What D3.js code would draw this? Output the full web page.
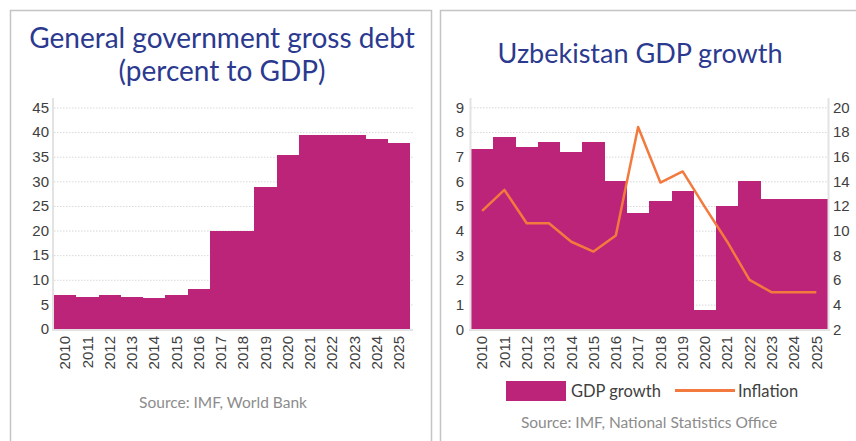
<!DOCTYPE html>
<html>
<head>
<meta charset="utf-8">
<script src="https://cdn.jsdelivr.net/npm/d3@7"></script>
<style>
  html, body { margin: 0; padding: 0; background: #fff; }
  svg { display: block; font-family: Lato, "Open Sans", sans-serif; }
</style>
</head>
<body>
<svg id="chart" width="856" height="441"></svg>
<script>
// Years shared by both panels
const years = ["2010","2011","2012","2013","2014","2015","2016","2017","2018","2019","2020","2021","2022","2023","2024","2025"];

// General government gross debt, % of GDP
const debtValues = [7.0, 6.5, 7.0, 6.6, 6.2, 7.0, 8.2, 20.0, 20.0, 28.9, 35.4, 39.4, 39.4, 39.4, 38.6, 37.8];
const debtTicks = [0, 5, 10, 15, 20, 25, 30, 35, 40, 45];

// Uzbekistan real GDP growth and inflation, %
const gdpGrowth = [7.3, 7.8, 7.4, 7.6, 7.2, 7.6, 6.0, 4.7, 5.2, 5.6, 0.8, 5.0, 6.0, 5.3, 5.3, 5.3];
const inflation = [11.6, 13.3, 10.6, 10.6, 9.1, 8.3, 9.6, 18.4, 13.9, 14.8, 11.9, 9.1, 6.0, 5.0, 5.0, 5.0];
const growthTicks = [0, 1, 2, 3, 4, 5, 6, 7, 8, 9];
const inflationTicks = [2, 4, 6, 8, 10, 12, 14, 16, 18, 20];

const BAR = "#bc2479";
const LINE = "#f37a3e";
const TITLE = "#2b3a8f";
const TICK = "#404040";
const GRID = "#d8d8d8";
const AXIS = "#e3e3e3";
const SOURCE = "#8c8c8c";

const svg = d3.select("#chart");

// Panel frames
svg.append("rect").attr("x", 10.5).attr("y", 10.5).attr("width", 421).attr("height", 450)
  .attr("fill", "none").attr("stroke", "#c4c4c4").attr("stroke-width", 1.5);
svg.append("rect").attr("x", 440.5).attr("y", 10.5).attr("width", 440).attr("height", 450)
  .attr("fill", "none").attr("stroke", "#c4c4c4").attr("stroke-width", 1.5);

function styleAxis(g) {
  g.select(".domain").remove();
  g.selectAll(".tick line").remove();
  g.selectAll(".tick text").attr("fill", TICK).style("font-size", "15px");
}

function gridLines(g, scale, ticks, x0, x1) {
  g.selectAll("line.grid").data(ticks.filter(t => t !== scale.domain()[0])).join("line")
    .attr("class", "grid")
    .attr("x1", x0).attr("x2", x1)
    .attr("y1", d => scale(d) + 0.5).attr("y2", d => scale(d) + 0.5)
    .attr("stroke", GRID).attr("stroke-width", 1).attr("stroke-dasharray", "1.5,1.5");
}

function yearAxis(g, x, y0) {
  g.attr("transform", `translate(0,${y0})`)
    .call(d3.axisBottom(x).tickSizeOuter(0).tickSize(0))
    .call(styleAxis);
  g.selectAll(".tick text")
    .attr("transform", "rotate(-90)")
    .attr("x", -5).attr("y", 0).attr("dy", "0.35em")
    .style("text-anchor", "end");
}

// ---------- Left panel: government debt ----------
{
  const x = d3.scaleBand().domain(years).range([54, 410]).padding(0);
  const y = d3.scaleLinear().domain([0, 45]).range([329, 107.5]);
  const g = svg.append("g");

  g.append("text").attr("x", 222).attr("y", 48).attr("text-anchor", "middle")
    .attr("fill", TITLE).style("font-size", "28px").text("General government gross debt");
  g.append("text").attr("x", 222).attr("y", 81).attr("text-anchor", "middle")
    .attr("fill", TITLE).style("font-size", "28px").text("(percent to GDP)");

  gridLines(g.append("g"), y, debtTicks, 54, 413);

  g.selectAll("rect.bar").data(debtValues).join("rect")
    .attr("class", "bar")
    .attr("x", (d, i) => x(years[i]))
    .attr("width", x.bandwidth())
    .attr("y", d => y(d))
    .attr("height", d => y(0) - y(d))
    .attr("fill", BAR)
    .attr("shape-rendering", "crispEdges");

  // axis lines
  g.append("line").attr("x1", 53).attr("x2", 53).attr("y1", 98).attr("y2", 331)
    .attr("stroke", AXIS).attr("stroke-width", 2);
  g.append("line").attr("x1", 52).attr("x2", 413).attr("y1", 330).attr("y2", 330)
    .attr("stroke", AXIS).attr("stroke-width", 2);

  g.append("g").attr("transform", "translate(53,0)")
    .call(d3.axisLeft(y).tickValues(debtTicks).tickSize(0).tickPadding(4))
    .call(styleAxis);

  yearAxis(g.append("g"), x, 331);

  g.append("text").attr("x", 223).attr("y", 408).attr("text-anchor", "middle")
    .attr("fill", SOURCE).style("font-size", "15.5px").text("Source: IMF, World Bank");
}

// ---------- Right panel: GDP growth and inflation ----------
{
  const x = d3.scaleBand().domain(years).range([471, 827.5]).padding(0);
  const yL = d3.scaleLinear().domain([0, 9]).range([329.3, 107.3]);
  const yR = d3.scaleLinear().domain([2, 20]).range([329.3, 107.3]);
  const g = svg.append("g");

  g.append("text").attr("x", 640).attr("y", 63).attr("text-anchor", "middle")
    .attr("fill", TITLE).style("font-size", "27px").text("Uzbekistan GDP growth");

  gridLines(g.append("g"), yL, growthTicks, 471, 828);

  g.selectAll("rect.bar").data(gdpGrowth).join("rect")
    .attr("class", "bar")
    .attr("x", (d, i) => x(years[i]))
    .attr("width", x.bandwidth())
    .attr("y", d => yL(d))
    .attr("height", d => yL(0) - yL(d))
    .attr("fill", BAR)
    .attr("shape-rendering", "crispEdges");

  const line = d3.line()
    .x((d, i) => x(years[i]) + x.bandwidth() / 2)
    .y(d => yR(d));
  g.append("path").datum(inflation)
    .attr("d", line).attr("fill", "none")
    .attr("stroke", LINE).attr("stroke-width", 2.5).attr("stroke-linejoin", "round");

  g.append("line").attr("x1", 470.5).attr("x2", 470.5).attr("y1", 98).attr("y2", 331)
    .attr("stroke", AXIS).attr("stroke-width", 2);
  g.append("line").attr("x1", 828.5).attr("x2", 828.5).attr("y1", 98).attr("y2", 331)
    .attr("stroke", AXIS).attr("stroke-width", 2);
  g.append("line").attr("x1", 469).attr("x2", 830).attr("y1", 330).attr("y2", 330)
    .attr("stroke", AXIS).attr("stroke-width", 2);

  g.append("g").attr("transform", "translate(470,0)")
    .call(d3.axisLeft(yL).tickValues(growthTicks).tickSize(0).tickPadding(6))
    .call(styleAxis);
  g.append("g").attr("transform", "translate(829,0)")
    .call(d3.axisRight(yR).tickValues(inflationTicks).tickSize(0).tickPadding(4))
    .call(styleAxis);

  yearAxis(g.append("g"), x, 331);

  // legend
  const lg = g.append("g");
  lg.append("rect").attr("x", 506).attr("y", 381).attr("width", 60).attr("height", 20).attr("fill", BAR);
  lg.append("text").attr("x", 571).attr("y", 397).attr("fill", TICK).style("font-size", "16.5px").text("GDP growth");
  lg.append("line").attr("x1", 675).attr("x2", 735).attr("y1", 390.5).attr("y2", 390.5)
    .attr("stroke", LINE).attr("stroke-width", 3);
  lg.append("text").attr("x", 738).attr("y", 397).attr("fill", TICK).style("font-size", "16.5px").text("Inflation");

  g.append("text").attr("x", 649).attr("y", 428).attr("text-anchor", "middle")
    .attr("fill", SOURCE).style("font-size", "15.5px").text("Source: IMF, National Statistics Office");
}
</script>
</body>
</html>
